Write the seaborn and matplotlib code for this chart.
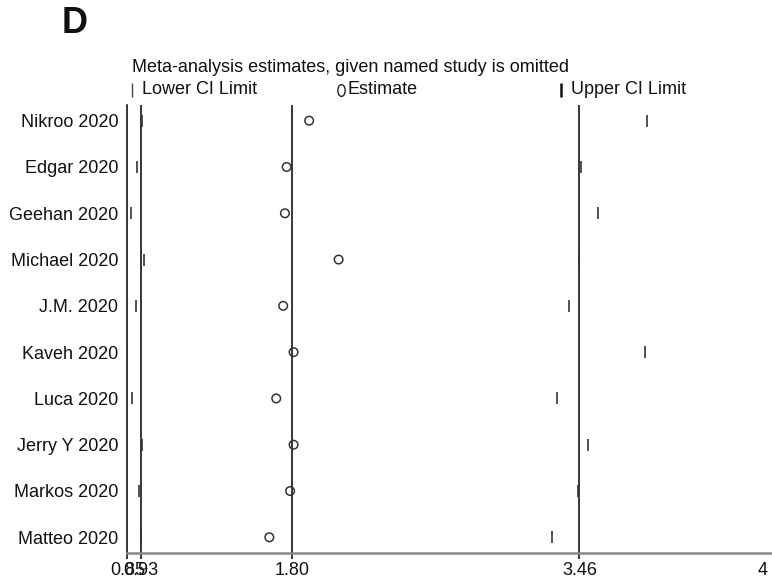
import matplotlib
matplotlib.use("Agg")
import matplotlib.pyplot as plt
from matplotlib.lines import Line2D
from matplotlib.path import Path
from matplotlib.transforms import Affine2D
import seaborn as sns
import pandas as pd

# Leave-one-out sensitivity analysis: pooled estimate and CI when each study is omitted
studies = ["Nikroo 2020", "Edgar 2020", "Geehan 2020", "Michael 2020", "J.M. 2020",
           "Kaveh 2020", "Luca 2020", "Jerry Y 2020", "Markos 2020", "Matteo 2020"]
estimate = [1.90, 1.77, 1.76, 2.07, 1.75, 1.81, 1.71, 1.81, 1.79, 1.67]
lower_ci = [0.935, 0.904, 0.870, 0.945, 0.898, 0.85, 0.879, 0.935, 0.919, 0.93]
upper_ci = [3.85, 3.47, 3.57, 3.46, 3.40, 3.84, 3.33, 3.51, 3.45, 3.30]

# Overall pooled result (lower CI, estimate, upper CI)
overall = [0.93, 1.80, 3.46]

# Axis range and tick labels
x_min, x_max = 0.85, 4.572
tick_values = [0.85, 0.93, 1.80, 3.46, 4.52]
tick_labels = ["0.85", "0.93", "1.80", "3.46", "4"]

df = pd.DataFrame({"study": studies, "estimate": estimate,
                   "lower": lower_ci, "upper": upper_ci})

sns.set_theme(style="white")
plt.rcParams["font.family"] = ["Liberation Sans", "DejaVu Sans"]

W, H = 772, 583
fig = plt.figure(figsize=(W / 100, H / 100), dpi=100)
ax = fig.add_axes([127.3 / W, (H - 552.7) / H, (W - 127.3) / W, (552.7 - 105) / H])

mark_col = "#333333"

# Reference lines at the overall pooled estimate and its CI
for v in overall:
    ax.axvline(v, color="black", lw=1.1, zorder=1)

# Omitted-study CI limits as short vertical ticks
sns.scatterplot(data=df, x="lower", y="study", marker="|", s=85,
                color=mark_col, linewidth=1.2, ax=ax, zorder=3, legend=False)
sns.scatterplot(data=df, x="upper", y="study", marker="|", s=85,
                color=mark_col, linewidth=1.2, ax=ax, zorder=3, legend=False)

# Omitted-study estimates as hollow circles
sns.scatterplot(data=df, x="estimate", y="study", marker="o", s=38,
                facecolor="none", edgecolor=mark_col, linewidth=1.1,
                ax=ax, zorder=4, legend=False)

n = len(studies)
ax.set_ylim(n - 1 + 0.333, -0.339)
ax.set_xlim(x_min, x_max)
ax.set_xlabel("")
ax.set_ylabel("")

ax.set_xticks(tick_values)
ax.set_xticklabels(tick_labels)
ax.tick_params(axis="x", direction="out", length=4, width=1.1, color="black",
               labelsize=13, pad=2.5, labelcolor="#111111", bottom=True)
ax.xaxis.get_major_ticks()[-1].tick1line.set_visible(False)
ax.tick_params(axis="y", length=0, pad=6.5, labelsize=13, labelcolor="#111111")

for side in ("top", "right"):
    ax.spines[side].set_visible(False)
ax.spines["left"].set_color("black")
ax.spines["left"].set_linewidth(1.1)
ax.spines["bottom"].set_color("#888888")
ax.spines["bottom"].set_linewidth(1.8)
ax.grid(False)

# Panel letter and header
fig.text(62 / W, 1 - 23.5 / H, "D", fontsize=26, fontweight="bold",
         ha="left", va="center", color="#111111")
fig.text(132.5 / W, 1 - 67.5 / H, "Meta-analysis estimates, given named study is omitted",
         fontsize=13, ha="left", va="center", color="#111111")

# Key row
key_y = 1 - 89.5 / H
ellipse = Path.unit_circle().transformed(Affine2D().scale(0.62, 1.0))
fig.add_artist(Line2D([131.7 / W], [key_y], marker="|", markersize=10.5,
                      markeredgewidth=1.0, color="#444444", transform=fig.transFigure))
fig.text(141.7 / W, key_y, "Lower CI Limit", fontsize=13, ha="left", va="center",
         color="#111111")
fig.add_artist(Line2D([341.0 / W], [key_y], marker=ellipse, markersize=8.5,
                      markerfacecolor="none", markeredgecolor="#222222",
                      markeredgewidth=1.0, transform=fig.transFigure))
fig.text(347.5 / W, key_y, "Estimate", fontsize=13, ha="left", va="center",
         color="#111111")
fig.add_artist(Line2D([560.5 / W], [key_y], marker="|", markersize=10.5,
                      markeredgewidth=1.8, color="#111111", transform=fig.transFigure))
fig.text(570.7 / W, key_y, "Upper CI Limit", fontsize=13, ha="left", va="center",
         color="#111111")

fig.savefig("out.png", dpi=100)
